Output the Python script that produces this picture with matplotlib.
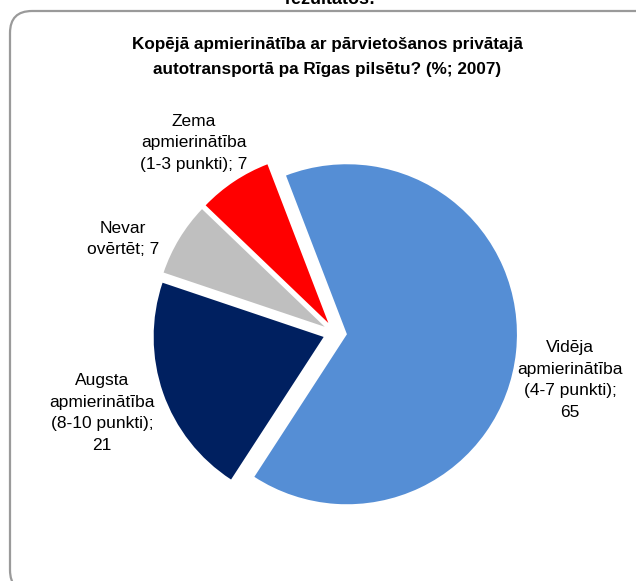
import matplotlib as mpl
mpl.use('Agg')
import matplotlib.pyplot as plt
from matplotlib.patches import FancyBboxPatch

W, H = 636, 581

labels = ["Vidēja\napmierinātība\n(4-7 punkti);\n65",
          "Augsta\napmierinātība\n(8-10 punkti);\n21",
          "Nevar\novērtēt; 7",
          "Zema\napmierinātība\n(1-3 punkti); 7"]
values = [65, 21, 7, 7]
colors = ["#558ED5", "#002060", "#BFBFBF", "#FF0000"]
title = "Kopējā apmierinātība ar pārvietošanos privātajā\nautotransportā pa Rīgas pilsētu? (%; 2007)"

plt.rcParams['font.family'] = ['Liberation Sans', 'DejaVu Sans']

fig = plt.figure(figsize=(W / 100, H / 100), dpi=100)
ax = fig.add_axes([0, 0, 1, 1])


def py(y):
    # pixel row (from top) -> data y
    return H - y


# rounded frame, partly running off the right and bottom edges
frame = FancyBboxPatch((10, py(592)), 650, 581, boxstyle="round,pad=0,rounding_size=22",
                       fc="white", ec="#9A9A9A", lw=1.6, zorder=0)
ax.add_patch(frame)

# explode is in data units here (1 unit = 1 px), every slice pulled out a bit
wedges, _ = ax.pie(values, colors=colors, startangle=111, counterclock=False,
                   explode=[12] * 4, center=(335, py(333)), radius=170,
                   wedgeprops=dict(linewidth=0), frame=True)

ax.set_xlim(0, W)
ax.set_ylim(0, H)
ax.set_aspect('auto')
ax.axis('off')

# heading of the slide above, cut by the top edge
ax.text(330, py(4), "rezultātos:", ha='center', va='baseline', fontsize=13,
        fontweight='bold', color='black')

ax.text(327, py(57), title, ha='center', va='center', fontsize=12.3,
        fontweight='bold', linespacing=1.85)

label_pos = [(570, 380), (102, 413), (123, 239), (194, 143)]
for lab, (x, y) in zip(labels, label_pos):
    ax.text(x, py(y), lab, ha='center', va='center', fontsize=12.5, linespacing=1.55)

fig.savefig('out.png', dpi=100)
